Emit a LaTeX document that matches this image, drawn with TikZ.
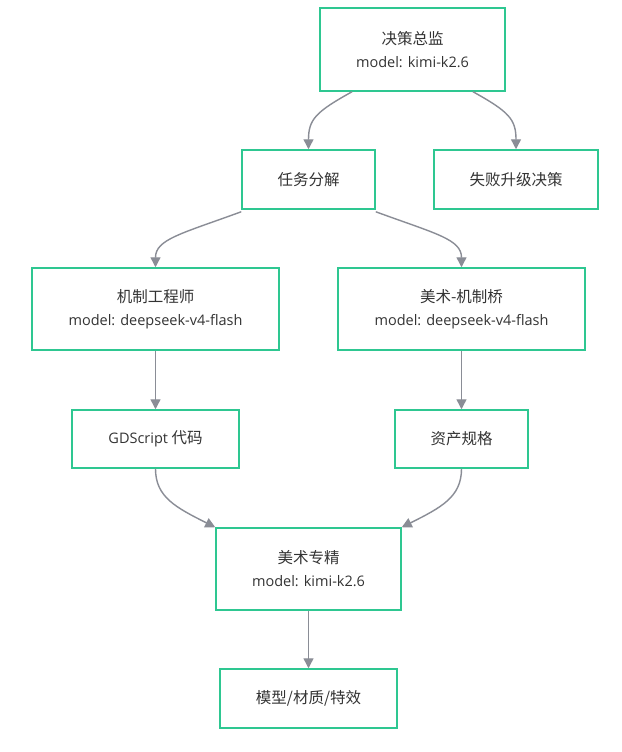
\documentclass[tikz,border=0pt]{standalone}
\usepackage{fontspec}
\setmainfont{Noto Sans CJK SC}
\newfontfamily\latfont[Scale=0.935]{Open Sans}
\usetikzlibrary{arrows.meta}
\definecolor{boxgreen}{HTML}{2EC791}
\definecolor{edgegray}{HTML}{8A8D96}
\definecolor{txt}{HTML}{333333}
\tikzset{
  box/.style={draw=boxgreen, line width=1.5pt, fill=white, rectangle, inner sep=0pt,
    align=center, text=txt, font=\fontsize{15.5}{23}\selectfont},
  edge/.style={draw=edgegray, line width=1.4pt, -{Triangle[length=10pt,width=10pt]}},
}
\begin{document}
\begin{tikzpicture}[x=1pt,y=-1pt]
\fill[white] (0,0) rectangle (621,752);
\useasboundingbox (0,0) rectangle (621,752);
\node[box, minimum width=185pt, minimum height=83pt] (top) at (412.5,49.5) {决策总监\\{\latfont model: kimi-k2.6}};
\node[box, minimum width=133pt, minimum height=59pt] (task) at (308.5,179.5) {任务分解};
\node[box, minimum width=164pt, minimum height=59pt] (fail) at (516,179.5) {失败升级决策};
\node[box, minimum width=247pt, minimum height=82pt] (mech) at (155.5,309) {机制工程师\\{\latfont model: deepseek-v4-flash}};
\node[box, minimum width=247pt, minimum height=82pt] (bridge) at (461.5,309) {美术-机制桥\\{\latfont model: deepseek-v4-flash}};
\node[box, minimum width=167pt, minimum height=58pt] (gd) at (155.5,439) {{\latfont GDScript} 代码};
\node[box, minimum width=133pt, minimum height=58pt] (asset) at (461.5,439) {资产规格};
\node[box, minimum width=185pt, minimum height=82pt] (art) at (308.5,569) {美术专精\\{\latfont model: kimi-k2.6}};
\node[box, minimum width=177pt, minimum height=59pt] (out) at (308.5,698.5) {模型/材质/特效};

\draw[edge] ([xshift=-60.5pt]top.south) .. controls +(-36,20) and +(0,-30) .. (task.north);
\draw[edge] ([xshift=60.5pt]top.south) .. controls +(36,20) and +(0,-30) .. (fail.north);
\draw[edge] ([yshift=-2pt]task.south west) .. controls +(-60,22) and +(0,-28) .. (mech.north);
\draw[edge] ([yshift=-2pt]task.south east) .. controls +(60,22) and +(0,-28) .. (bridge.north);
\draw[edge] (mech.south) -- (gd.north);
\draw[edge] (bridge.south) -- (asset.north);
\draw[edge] (gd.south) .. controls +(0,28) and +(-40,-20) .. (art.north west);
\draw[edge] (asset.south) .. controls +(0,28) and +(40,-20) .. (art.north east);
\draw[edge] (art.south) -- (out.north);
\end{tikzpicture}
\end{document}
